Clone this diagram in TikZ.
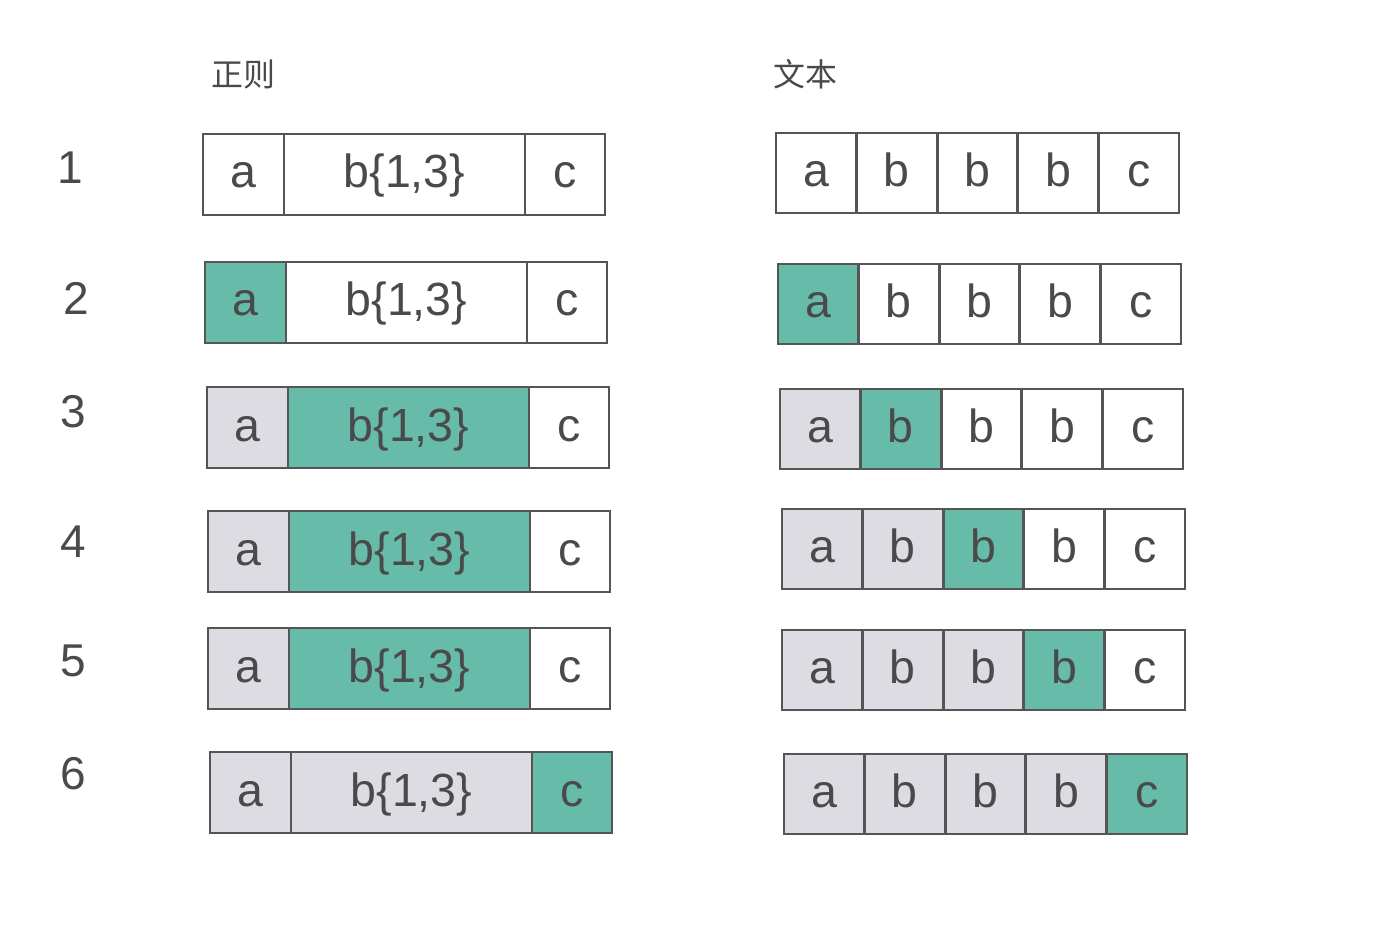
\documentclass[tikz,border=0pt]{standalone}
\usepackage{fontspec}
\setmainfont{Liberation Sans}
\newfontfamily\cjk{Noto Sans CJK SC}
\definecolor{tealc}{HTML}{66BBA9}
\definecolor{grayc}{HTML}{DCDCE2}
\definecolor{edgec}{HTML}{555555}
\definecolor{inkc}{HTML}{4A4A4A}
\begin{document}
\begin{tikzpicture}[x=1pt,y=-1pt,
  cellbox/.style={draw=edgec,line width=2.8pt,text=inkc,inner sep=0pt,outer sep=0pt,
    text height=36pt,text depth=9pt,font=\fontsize{46.5}{46.5}\selectfont},
  numlabel/.style={text=inkc,inner sep=0pt,anchor=base,font=\fontsize{46}{46}\selectfont},
  header/.style={text=inkc,inner sep=0pt,font=\cjk\fontsize{32}{32}\selectfont}]
\useasboundingbox (0,0) rectangle (1374,928);
\node[header] (h1) at (243,74) {正则};
\node[header] (h2) at (805,74) {文本};
\foreach \r/\nx/\ny/\lx/\ly/\rx/\ry/\la/\lb/\lc/\ra/\rb/\rcc/\rd/\re in {
  1/70/184/203/134/776/133/white/white/white/white/white/white/white/white,
  2/76/314/205/262/778/264/tealc/white/white/tealc/white/white/white/white,
  3/73/427/207/387/780/389/grayc/tealc/white/grayc/tealc/white/white/white,
  4/73/557/208/511/782/509/grayc/tealc/white/grayc/grayc/tealc/white/white,
  5/73/676/208/628/782/630/grayc/tealc/white/grayc/grayc/grayc/tealc/white,
  6/73/789/210/752/784/754/grayc/grayc/tealc/grayc/grayc/grayc/grayc/tealc}{
  \node[numlabel] (n\r) at (\nx,\ny) {\r};
  % left (regex) row
  \node[cellbox,fill=\la,minimum width=81pt,minimum height=81pt] (L\r a) at (\lx+40.5,\ly+40.5) {a};
  \node[cellbox,fill=\lb,minimum width=241pt,minimum height=81pt] (L\r b) at (\lx+201.5,\ly+40.5) {b\{1,3\}};
  \node[cellbox,fill=\lc,minimum width=80pt,minimum height=81pt] (L\r c) at (\lx+362,\ly+40.5) {c};
  % right (text) row
  \node[cellbox,fill=\ra,minimum width=80.6pt,minimum height=80pt] (R\r a) at (\rx+40.3,\ry+40) {a};
  \node[cellbox,fill=\rb,minimum width=80.6pt,minimum height=80pt] (R\r b) at (\rx+120.9,\ry+40) {b};
  \node[cellbox,fill=\rcc,minimum width=80.6pt,minimum height=80pt] (R\r c) at (\rx+201.5,\ry+40) {b};
  \node[cellbox,fill=\rd,minimum width=80.6pt,minimum height=80pt] (R\r d) at (\rx+282.1,\ry+40) {b};
  \node[cellbox,fill=\re,minimum width=80.6pt,minimum height=80pt] (R\r e) at (\rx+362.7,\ry+40) {c};
}
\end{tikzpicture}
\end{document}
